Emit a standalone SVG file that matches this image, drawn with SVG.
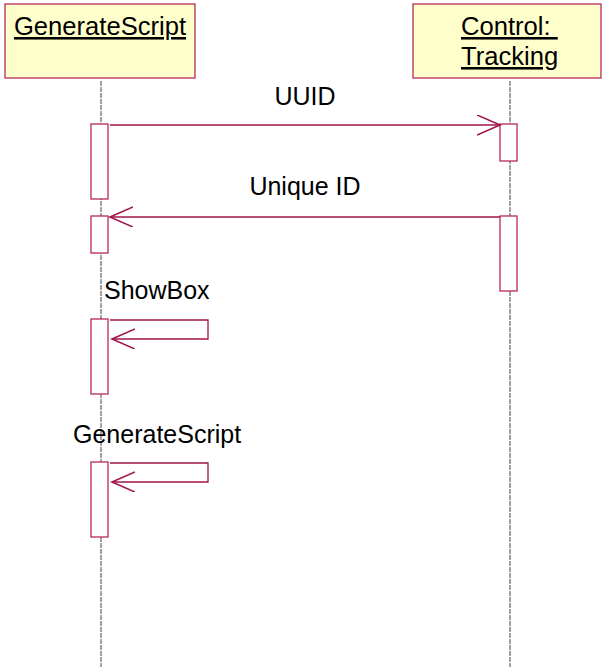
<svg xmlns="http://www.w3.org/2000/svg" width="603" height="667" viewBox="0 0 603 667">
<style>
.obj{fill:#ffffcc;stroke:#b8285a;stroke-width:1.3}
.act{fill:#ffffff;stroke:#b8285a;stroke-width:1.3}
.life{stroke:#666666;stroke-width:1.2;stroke-dasharray:5,1;fill:none}
.msg{stroke:#a0144a;stroke-width:1.3;fill:none}
.t{font-family:"Liberation Sans",Arial,sans-serif;font-size:25px;fill:#000}
.h{font-size:25.6px}
.u{text-decoration:underline}
</style>
<defs>
<marker id="open" markerUnits="userSpaceOnUse" markerWidth="26" markerHeight="24" refX="23" refY="10" orient="auto" viewBox="0 0 26 24">
<path d="M0,0 L23,10 L0,20" fill="none" stroke="#a0144a" stroke-width="1.6"/>
</marker>
</defs>
<g id="lifelines">
<line class="life" x1="101" y1="81" x2="101" y2="667"/>
<line class="life" x1="510" y1="81" x2="510" y2="667"/>
</g>
<g id="GenerateScript">
<rect class="obj" x="5" y="4" width="190" height="74"/>
<text class="t h u" x="100" y="35" text-anchor="middle">GenerateScript</text>
</g>
<g id="ControlTracking">
<rect class="obj" x="413" y="4" width="188" height="74"/>
<text class="t h u" x="461" y="35" xml:space="preserve">Control: </text>
<text class="t h u" x="461" y="65">Tracking</text>
</g>
<g id="activations">
<rect class="act" x="91" y="124" width="17" height="75"/>
<rect class="act" x="91" y="216" width="17" height="37"/>
<rect class="act" x="91" y="319" width="17" height="75"/>
<rect class="act" x="91" y="462" width="17" height="75"/>
<rect class="act" x="500" y="124" width="17" height="37"/>
<rect class="act" x="500" y="216" width="17" height="75"/>
</g>
<g id="connectors">
<line class="msg" x1="110" y1="125" x2="500" y2="125" marker-end="url(#open)"/>
<line class="msg" x1="500" y1="217" x2="110" y2="217" marker-end="url(#open)"/>
<polyline class="msg" points="110,320 208,320 208,339 112,339" marker-end="url(#open)"/>
<polyline class="msg" points="110,463 208,463 208,482 112,482" marker-end="url(#open)"/>
</g>
<g id="labels">
<text class="t" x="305" y="105" text-anchor="middle">UUID</text>
<text class="t" x="305" y="195" text-anchor="middle">Unique ID</text>
<text class="t" x="104" y="299">ShowBox</text>
<text class="t" x="73" y="443">GenerateScript</text>
</g>
</svg>
